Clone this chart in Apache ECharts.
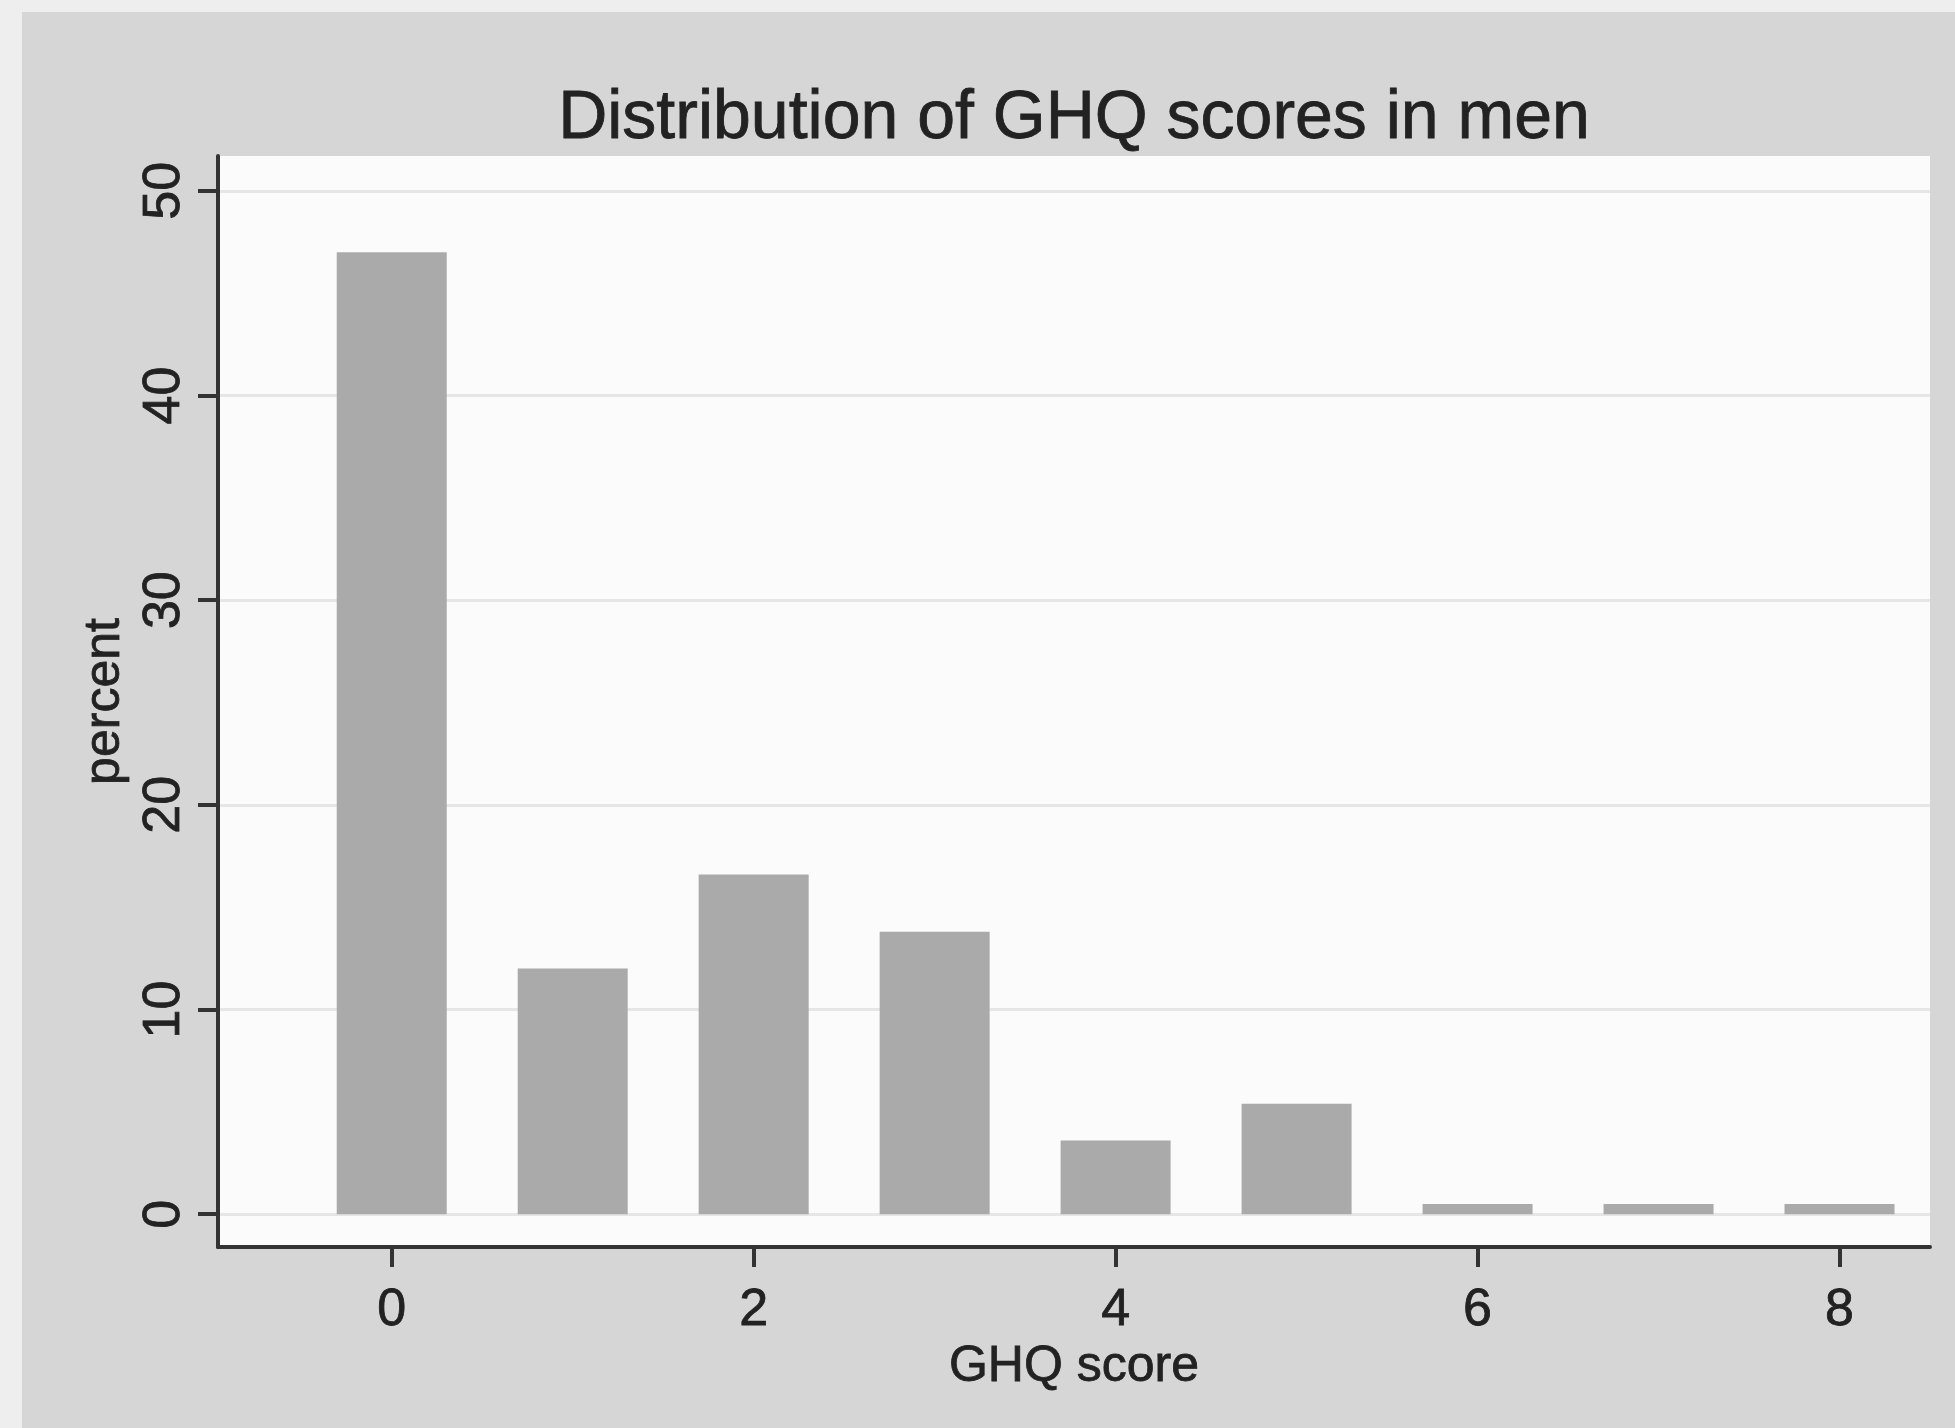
<!DOCTYPE html>
<html><head><meta charset="utf-8">
<script src="https://cdn.jsdelivr.net/npm/echarts@6/dist/echarts.min.js"></script>
<style>html,body{margin:0;padding:0;background:#eeeeee}#c{width:1955px;height:1428px}</style>
</head><body><div id="c"></div>
<script>
const scores = [0, 1, 2, 3, 4, 5, 6, 7, 8];
const percents = [47.0, 12.0, 16.6, 13.8, 3.6, 5.4, 0.5, 0.5, 0.5];
const xTicks = [0, 2, 4, 6, 8];
const yTicks = [0, 10, 20, 30, 40, 50];
const titleText = 'Distribution of GHQ scores in men';
const xName = 'GHQ score';
const yName = 'percent';

const FONT = '"Liberation Sans", Arial, Helvetica, sans-serif';
const INK = '#222222';
const heavy = {textBorderColor: INK, textBorderWidth: 0.8};
const chart = echarts.init(document.getElementById('c'), null, {renderer: 'canvas'});
chart.setOption({
  animation: false,
  backgroundColor: '#eeeeee',
  graphic: [{
    type: 'rect', z: -100, silent: true,
    shape: {x: 22, y: 12, width: 1955, height: 1428},
    style: {fill: '#d6d6d6'}
  }],
  title: {
    text: titleText,
    left: 1074, top: 85, textAlign: 'center', padding: 0,
    textStyle: Object.assign({fontFamily: FONT, fontSize: 68, fontWeight: 'normal', color: INK}, heavy)
  },
  grid: {
    left: 218, top: 156, width: 1712, height: 1091,
    show: true, backgroundColor: '#fbfbfb', borderWidth: 0
  },
  xAxis: {
    type: 'value', min: -0.96, max: 8.5,
    name: xName, nameLocation: 'middle', nameGap: 81,
    nameTextStyle: Object.assign({fontFamily: FONT, fontSize: 50, color: INK}, heavy),
    axisLine: {show: true, onZero: false, lineStyle: {color: '#333', width: 4}},
    axisTick: {show: true, customValues: xTicks, length: 20, lineStyle: {color: '#333', width: 4}},
    axisLabel: Object.assign({customValues: xTicks, margin: 38, fontFamily: FONT, fontSize: 52, color: INK}, heavy),
    splitLine: {show: false}
  },
  yAxis: {
    type: 'value', min: -1.6, max: 51.7,
    name: yName, nameLocation: 'middle', nameGap: 86, nameRotate: 90,
    nameTextStyle: Object.assign({fontFamily: FONT, fontSize: 50, color: INK}, heavy),
    axisLine: {show: true, onZero: false, lineStyle: {color: '#333', width: 4}},
    axisTick: {show: true, customValues: yTicks, length: 20, lineStyle: {color: '#333', width: 4}},
    axisLabel: Object.assign({customValues: yTicks, rotate: 90, margin: 27, fontFamily: FONT, fontSize: 52, color: INK}, heavy),
    splitLine: {show: true, lineStyle: {color: '#e6e6e6', width: 3}}
  },
  series: [{
    type: 'bar',
    barWidth: 110,
    data: scores.map((s, i) => [s, percents[i]]),
    itemStyle: {color: '#aaaaaa'}
  }]
});
</script></body></html>
